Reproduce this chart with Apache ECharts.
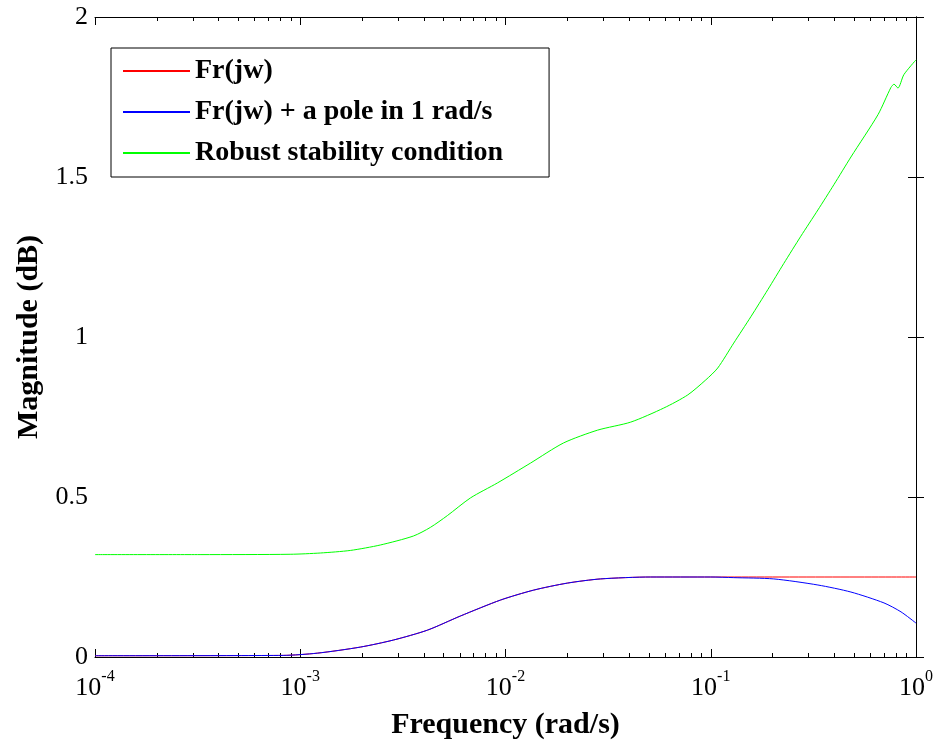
<!DOCTYPE html>
<html>
<head>
<meta charset="utf-8">
<script src="https://cdn.jsdelivr.net/npm/echarts@6/dist/echarts.min.js"></script>
<style>
html,body{margin:0;padding:0;background:#fff;}
#chart{width:938px;height:751px;}
</style>
</head>
<body>
<div id="chart"></div>
<script>
// ---- data ----
const seriesNames = ['Fr(jw)', 'Fr(jw) + a pole in 1 rad/s', 'Robust stability condition'];

const freqFr = [1e-4, 8.26e-4, 1.211e-3, 1.963e-3, 2.844e-3, 4.169e-3, 6.026e-3, 9.46e-3, 1.371e-2, 2.004e-2, 2.904e-2, 5.093e-2, 0.1, 1];
const valFr  = [0.004, 0.005, 0.012, 0.031, 0.053, 0.084, 0.128, 0.178, 0.209, 0.231, 0.244, 0.25, 0.25, 0.25];

const freqPole = [1e-4, 8.26e-4, 1.211e-3, 1.963e-3, 2.844e-3, 4.169e-3, 6.026e-3, 9.46e-3, 1.371e-2, 2.004e-2, 2.904e-2, 5.093e-2, 0.1, 0.1294, 0.2028, 0.3327, 0.4819, 0.6982, 0.8453, 1];
const valPole  = [0.004, 0.005, 0.012, 0.031, 0.053, 0.084, 0.128, 0.178, 0.209, 0.231, 0.244, 0.25, 0.25, 0.248, 0.244, 0.225, 0.203, 0.169, 0.141, 0.106];

const freqRobust = [1e-4, 3.25e-4, 8.93e-4, 1.253e-3, 1.754e-3, 2.455e-3, 3.556e-3, 4.305e-3, 5.212e-3, 6.745e-3, 9.14e-3, 1.324e-2, 1.919e-2, 2.812e-2, 4.074e-2, 5.902e-2, 7.727e-2, 9.46e-2, 0.1081, 0.1294, 0.1567, 0.1897, 0.227, 0.2748, 0.3327, 0.3981, 0.4819, 0.6531, 0.7551, 0.7816, 0.8166, 0.873, 1];
const valRobust  = [0.32, 0.32, 0.321, 0.325, 0.333, 0.35, 0.378, 0.405, 0.442, 0.497, 0.544, 0.606, 0.669, 0.709, 0.734, 0.778, 0.819, 0.866, 0.903, 0.981, 1.063, 1.148, 1.23, 1.315, 1.397, 1.476, 1.5625, 1.695, 1.78, 1.79, 1.778, 1.82, 1.866];

const xMajorTicks = [1e-4, 1e-3, 1e-2, 1e-1, 1];
const yTicks = [0, 0.5, 1, 1.5, 2];

// tick positions in log10 space for the decorative tick axes
const decadeExps = xMajorTicks.map(v => Math.round(Math.log10(v)));
const xMinorTickExps = [];
for (let d = 0; d < decadeExps.length - 1; d++) {
  for (let k = 2; k <= 9; k++) xMinorTickExps.push(decadeExps[d] + Math.log10(k));
}

function zip(xs, ys) { return xs.map((x, i) => [x, ys[i]]); }

const FONT = 'Liberation Serif';

const chart = echarts.init(document.getElementById('chart'), null, {renderer: 'canvas'});

function tickAxis(position, len, values, showLine) {
  return {
    type: 'value', min: decadeExps[0], max: decadeExps[decadeExps.length - 1],
    position: position, gridIndex: 0,
    splitLine: {show: false},
    axisLine: {show: showLine, lineStyle: {color: '#000', width: 1}},
    axisTick: {show: true, inside: true, length: len, customValues: values, lineStyle: {color: '#000', width: 1}},
    axisLabel: {show: false}
  };
}

chart.setOption({
  animation: false,
  backgroundColor: '#fff',
  grid: {left: 95, right: 22, top: 17, bottom: 94, containLabel: false},
  legend: {
    orient: 'vertical', left: 111, top: 48,
    padding: [8, 46, 9, 12],
    itemGap: 11, itemWidth: 67, itemHeight: 2,
    icon: 'rect',
    borderColor: '#000', borderWidth: 1, backgroundColor: '#fff',
    textStyle: {fontFamily: FONT, fontWeight: 'bold', fontSize: 28, color: '#000', lineHeight: 30},
    data: seriesNames
  },
  xAxis: [
    {
      type: 'log', logBase: 10, min: 1e-4, max: 1, gridIndex: 0, position: 'bottom',
      splitLine: {show: false},
      name: 'Frequency (rad/s)', nameLocation: 'middle', nameGap: 53,
      nameTextStyle: {fontFamily: FONT, fontWeight: 'bold', fontSize: 30, color: '#000'},
      axisLine: {show: true, lineStyle: {color: '#000', width: 1}},
      axisTick: {show: false},
      axisLabel: {
        show: true, margin: 12, customValues: xMajorTicks,
        formatter: function (v) {
          const e = Math.round(Math.log10(v));
          return '{b|10}{s|' + e + '}';
        },
        rich: {
          b: {fontFamily: FONT, fontSize: 26, color: '#000', lineHeight: 32, verticalAlign: 'bottom'},
          s: {fontFamily: FONT, fontSize: 16, color: '#000', lineHeight: 16, verticalAlign: 'top'}
        }
      }
    },
    tickAxis('bottom', 8, decadeExps, false),
    tickAxis('bottom', 4, xMinorTickExps, false),
    tickAxis('top', 8, decadeExps, true),
    tickAxis('top', 4, xMinorTickExps, false)
  ],
  yAxis: [
    {
      type: 'value', min: 0, max: 2, interval: 0.5, position: 'left',
      name: 'Magnitude (dB)', nameLocation: 'middle', nameGap: 50, nameRotate: 90,
      nameTextStyle: {fontFamily: FONT, fontWeight: 'bold', fontSize: 30, color: '#000'},
      splitLine: {show: false},
      axisLine: {show: true, lineStyle: {color: '#000', width: 1}},
      axisTick: {show: true, inside: true, length: 8, lineStyle: {color: '#000'}},
      axisLabel: {show: true, margin: 7, fontFamily: FONT, fontSize: 26, color: '#000',
        customValues: yTicks, formatter: v => String(v)}
    },
    {
      type: 'value', min: 0, max: 2, interval: 0.5, position: 'right',
      splitLine: {show: false},
      axisLine: {show: true, lineStyle: {color: '#000', width: 1}},
      axisTick: {show: true, inside: true, length: 8, lineStyle: {color: '#000'}},
      axisLabel: {show: false}
    }
  ],
  series: [
    {name: seriesNames[0], type: 'line', xAxisIndex: 0, yAxisIndex: 0, symbol: 'none',
     smooth: 0.25,
     lineStyle: {color: '#ff0000', width: 1}, itemStyle: {color: '#ff0000'}, data: zip(freqFr, valFr)},
    {name: seriesNames[1], type: 'line', xAxisIndex: 0, yAxisIndex: 0, symbol: 'none',
     smooth: 0.25,
     lineStyle: {color: '#0000ff', width: 1}, itemStyle: {color: '#0000ff'}, data: zip(freqPole, valPole)},
    {name: seriesNames[2], type: 'line', xAxisIndex: 0, yAxisIndex: 0, symbol: 'none',
     smooth: 0.25,
     lineStyle: {color: '#00ff00', width: 1}, itemStyle: {color: '#00ff00'}, data: zip(freqRobust, valRobust)}
  ]
});
</script>
</body>
</html>
